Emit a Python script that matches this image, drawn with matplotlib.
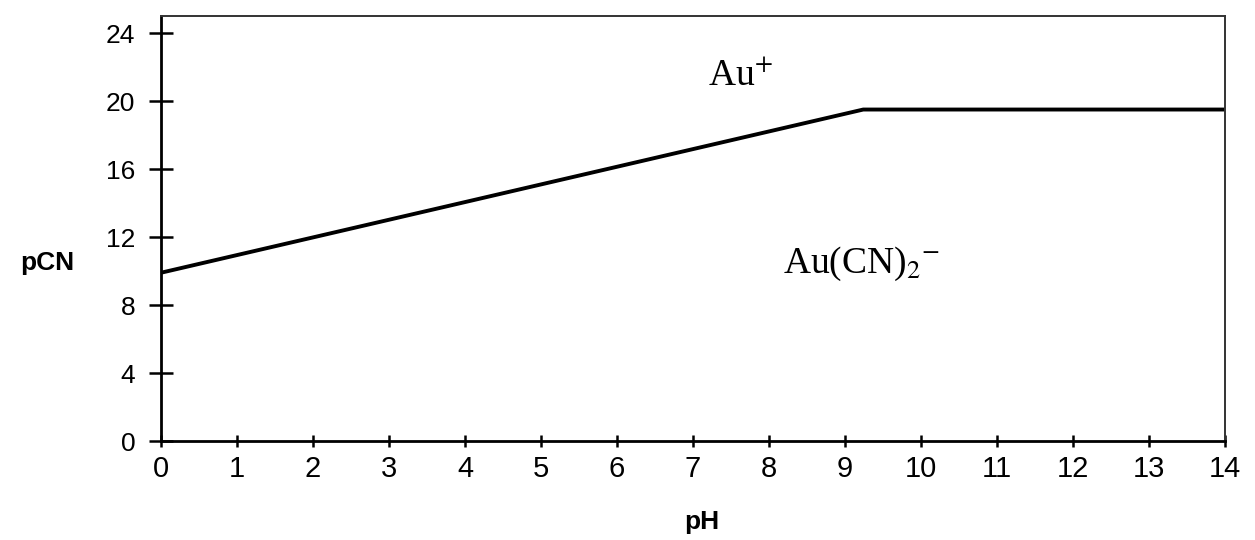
import numpy as np
import matplotlib.pyplot as plt

# Au / CN stability boundary: pCN vs pH
ph = [0.0, 9.24, 14.0]
pcn = [9.9, 19.5, 19.5]

x_ticks = list(range(0, 15))
y_ticks = [0, 4, 8, 12, 16, 20, 24]

plt.rcParams['mathtext.fontset'] = 'stix'

fig = plt.figure(figsize=(12.55, 5.4), dpi=100)
ax = fig.add_axes([0.1283, 0.1833, 0.8478, 0.7870])

ax.plot(ph, pcn, color='black', linewidth=2.8, solid_capstyle='butt')

ax.set_xlim(0, 14)
ax.set_ylim(0, 25)
ax.set_xticks(x_ticks)
ax.set_yticks(y_ticks)

ax.set_xticklabels([str(v) for v in x_ticks], family='Liberation Sans', size=21)
ax.set_yticklabels([str(v) for v in y_ticks], family='Liberation Sans', size=19)
ax.tick_params(axis='y', direction='inout', length=17, width=1.8, pad=10)
ax.tick_params(axis='x', direction='inout', length=8, width=1.8, pad=6)

for side in ['left', 'bottom']:
    ax.spines[side].set_linewidth(2.0)
for side in ['top', 'right']:
    ax.spines[side].set_linewidth(1.4)
    ax.spines[side].set_color('#333333')

label_font = dict(family='Liberation Sans', size=19, weight='bold')
ax.set_ylabel('pCN', rotation=0, va='center', ha='center', **label_font)
ax.yaxis.set_label_coords(-0.107, 0.42)
ax.set_xlabel('pH', va='center', **label_font)
ax.xaxis.set_label_coords(0.508, -0.19)

region_font = dict(family='Liberation Serif', size=27)
ax.text(7.63, 21.5, r'Au$^{+}$', ha='center', va='center', **region_font)
ax.text(9.22, 10.4, r'Au(CN)$_{2}{}^{-}$', ha='center', va='center', **region_font)

fig.savefig('out.png', dpi=100)
